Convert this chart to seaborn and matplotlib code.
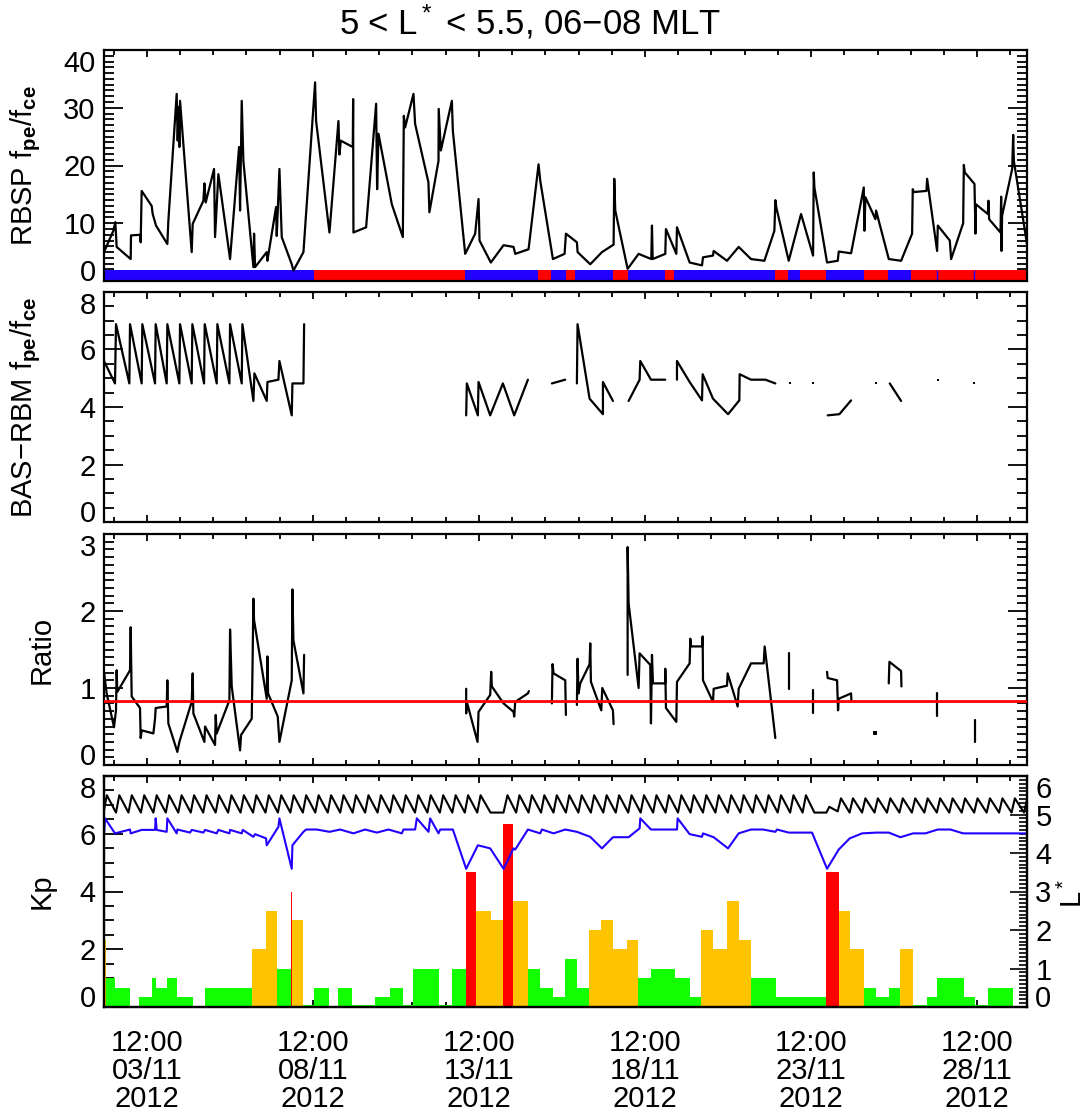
import numpy as np
import pandas as pd
import matplotlib
matplotlib.use("Agg")
import matplotlib.pyplot as plt
import seaborn as sns
from matplotlib.ticker import MultipleLocator, FixedLocator

# ------------------------------------------------------------------
# DATA  (time axis = day of November 2012, UT, fractional days)
# ------------------------------------------------------------------
x_ticks = [3.5, 8.5, 13.5, 18.5, 23.5, 28.5]
x_tick_labels = ["12:00\n03/11\n2012", "12:00\n08/11\n2012", "12:00\n13/11\n2012",
                 "12:00\n18/11\n2012", "12:00\n23/11\n2012", "12:00\n28/11\n2012"]
x_minor = [2.5, 4.5, 5.5, 6.5, 7.5, 9.5, 10.5, 11.5, 12.5, 14.5, 15.5, 16.5, 17.5,
           19.5, 20.5, 21.5, 22.5, 24.5, 25.5, 26.5, 27.5, 29.5]

# Panel 1: RBSP fpe/fce
rbsp_t = [2.214, 2.495, 2.555, 2.595, 3.017, 3.027, 3.298, 3.318, 3.348, 3.649,
          3.68, 3.78, 4.121, 4.151, 4.402, 4.432, 4.463, 4.483, 4.503, 4.854,
          4.884, 5.206, 5.236, 5.276, 5.527, 5.557, 5.657, 6.009, 6.28, 6.31,
          6.36, 6.41, 6.711, 6.732, 6.762, 7.113, 7.133, 7.394, 7.414, 7.495,
          7.565, 7.866, 7.916, 8.218, 8.569, 8.599, 9.001, 9.272, 9.302, 9.342,
          9.703, 9.714, 9.723, 10.105, 10.406, 10.436, 10.477, 10.878, 11.21, 11.24,
          11.28, 11.53, 11.58, 11.98, 12.01, 12.284, 12.29, 12.355, 12.686, 12.716,
          13.087, 13.388, 13.489, 13.519, 13.86, 14.242, 14.543, 14.594, 14.995, 15.296,
          15.346, 15.728, 16.079, 16.12, 16.451, 16.471, 16.852, 17.204, 17.555, 17.575,
          17.605, 17.977, 18.308, 18.69, 18.71, 18.73, 19.111, 19.131, 19.443, 19.463,
          19.845, 20.216, 20.246, 20.547, 20.567, 20.969, 21.32, 21.692, 22.094, 22.395,
          22.425, 22.455, 22.827, 23.198, 23.228, 23.56, 23.58, 23.6, 23.981, 24.303,
          24.333, 24.704, 25.086, 25.106, 25.136, 25.437, 25.457, 25.839, 26.21, 26.541,
          26.561, 26.592, 26.973, 26.993, 27.294, 27.315, 27.676, 27.716, 28.078, 28.098,
          28.128, 28.419, 28.449, 28.459, 28.82, 28.84, 28.86, 29.202, 29.222, 29.232,
          29.25, 29.554, 29.584, 29.604, 30.0]
rbsp_v = [5.0, 8.7, 10.2, 5.9, 3.8, 7.9, 8.0, 6.7, 15.6, 13.0,
          11.6, 9.6, 6.4, 10.4, 32.4, 24.3, 30.1, 23.2, 31.2, 5.0,
          9.9, 13.9, 16.9, 13.6, 19.4, 7.6, 18.5, 3.8, 23.2, 12.2,
          31.2, 20.8, 2.4, 8.2, 2.4, 5.0, 3.5, 12.8, 7.8, 19.4,
          7.6, 2.9, 1.8, 5.0, 34.4, 27.7, 8.4, 27.7, 21.9, 24.3,
          23.2, 31.5, 8.4, 9.3, 30.7, 15.9, 25.5, 13.3, 7.6, 28.6,
          26.6, 32.4, 27.2, 17.1, 11.9, 20.8, 29.8, 22.6, 31.2, 26.0,
          4.7, 8.2, 14.2, 7.0, 3.2, 6.2, 5.9, 4.7, 5.5, 20.2,
          17.4, 3.8, 4.7, 8.2, 6.7, 5.0, 2.9, 5.0, 6.3, 17.7,
          12.2, 2.1, 4.7, 3.8, 9.6, 3.8, 4.7, 9.0, 4.7, 9.3,
          3.2, 2.7, 4.1, 4.4, 5.2, 3.5, 5.9, 3.8, 3.5, 8.7,
          14.0, 12.7, 3.5, 11.6, 11.0, 4.4, 18.8, 16.2, 3.2, 3.5,
          5.1, 4.8, 16.2, 8.7, 14.5, 10.7, 12.2, 3.8, 3.5, 8.2,
          15.9, 15.4, 15.6, 17.7, 5.2, 9.6, 7.0, 3.8, 10.0, 20.1,
          18.8, 16.8, 8.2, 13.3, 11.6, 13.9, 10.7, 8.4, 14.6, 5.2,
          11.3, 19.4, 25.3, 20.8, 6.4]

# Panel 1 bottom strip: inside (blue) / outside (red) plasmasphere
strip_edges = [2.214, 8.54, 13.09, 15.29, 15.68, 16.13, 16.40, 17.55, 17.98, 19.11,
               19.38, 22.42, 22.80, 23.18, 23.96, 25.08, 25.82, 26.52, 30.0]
strip_state = ["in", "out", "in", "out", "in", "out", "in", "out", "in", "out",
               "in", "out", "in", "out", "in", "out", "in", "out"]
strip_marks = [27.30, 28.40]

# Panel 2: BAS-RBM fpe/fce (segments separated by data gaps)
bas_t = [2.214, 2.545, 2.575, 2.977, 2.997, 3.348, 3.368, 3.75, 3.77, 4.101,
         4.121, 4.483, 4.503, 4.854, 4.874, 5.226, 5.246, 5.607, 5.627, 5.989,
         6.009, 6.36, 6.38, 6.712, 6.742, 7.113, 7.133, 7.465, 7.495, 7.866,
         7.886, 8.218, 8.238,
         13.117, 13.137, 13.469, 13.489, 13.84, 14.222, 14.563, 14.975,
         15.697, 16.099,
         16.45, 16.47, 16.832, 17.234, 17.234, 17.535,
         18.007, 18.338, 18.358, 18.68, 19.111,
         19.463, 19.463, 19.844, 20.216, 20.236, 20.547, 21.0, 21.34, 21.35, 21.69,
         22.123, 22.424,
         24.001, 24.352, 24.704,
         25.868, 26.21]
bas_v = [5.6, 4.82, 6.88, 4.82, 6.88, 4.82, 6.88, 4.82, 6.88, 4.82,
         6.88, 4.82, 6.88, 4.82, 6.88, 4.82, 6.88, 4.82, 6.88, 4.82,
         6.88, 4.82, 6.88, 4.21, 5.17, 4.21, 4.87, 4.95, 5.6, 3.71,
         4.82, 4.82, 6.88,
         3.71, 4.82, 3.71, 4.87, 3.71, 4.82, 3.71, 4.95,
         4.82, 4.95,
         4.82, 6.88, 4.29, 3.75, 4.87, 4.21,
         4.21, 4.95, 5.6, 4.95, 4.95,
         4.95, 5.6, 4.87, 4.23, 5.14, 4.29, 3.75, 4.23, 5.14, 4.95,
         4.95, 4.82,
         3.71, 3.75, 4.23,
         4.82, 4.21]
bas_seg_len = [33, 8, 2, 6, 5, 12, 3, 2]
bas_dot_t = [22.856, 23.559, 25.457, 27.314, 28.419]
bas_dot_v = [4.82, 4.82, 4.82, 4.95, 4.82]

# Panel 3: ratio
ratio_t = [2.214, 2.294, 2.515, 2.575, 2.595, 2.615, 2.997, 3.017, 3.047, 3.298,
           3.318, 3.348, 3.70, 3.75, 3.77, 4.101, 4.121, 4.151, 4.422, 4.483,
           4.854, 4.884, 4.904, 5.236, 5.256, 5.557, 5.577, 5.607, 5.989, 6.009,
           6.059, 6.31, 6.34, 6.661, 6.681, 6.712, 6.732, 7.113, 7.133, 7.153,
           7.444, 7.495, 7.866, 7.886, 7.916, 8.218, 8.238,
           13.117, 13.117, 13.137, 13.459, 13.489, 13.84, 13.87, 13.89, 14.242, 14.543,
           14.563, 14.593, 14.975, 15.005,
           15.697, 15.717, 15.748, 16.099, 16.119,
           16.45, 16.47, 16.50, 16.551, 16.832, 16.852, 16.872, 17.184, 17.214, 17.535,
           17.555,
           17.977, 17.977, 18.007, 18.308, 18.338, 18.659, 18.68, 18.71, 18.74, 19.111,
           19.111, 19.131, 19.443, 19.463, 19.844, 19.864, 19.884, 20.216, 20.236, 20.246,
           20.547, 20.567, 20.969, 20.989, 21.29, 21.32, 21.692, 22.073, 22.103, 22.424,
           22.846, 22.846,
           23.549, 23.549,
           23.98, 24.0, 24.282, 24.312, 24.332, 24.704, 24.714,
           25.838, 25.858, 26.21, 26.22,
           27.294, 27.294,
           28.428, 28.428]
ratio_v = [1.21, 0.93, 0.49, 0.71, 1.23, 0.95, 1.23, 1.79, 0.89, 0.74,
           0.35, 0.45, 0.41, 0.60, 0.74, 0.76, 1.10, 0.54, 0.17, 0.30,
           0.82, 1.19, 0.67, 0.30, 0.50, 0.26, 0.65, 0.41, 0.84, 1.76,
           1.02, 0.19, 0.39, 0.60, 1.15, 2.16, 1.88, 0.86, 1.41, 0.93,
           0.63, 0.30, 1.10, 2.28, 1.62, 0.93, 1.43,
           0.99, 0.67, 0.82, 0.30, 0.69, 0.91, 1.21, 1.02, 0.80, 0.69,
           0.63, 0.82, 0.93, 0.96,
           0.80, 1.31, 1.19, 1.10, 0.65,
           0.78, 1.38, 0.93, 1.06, 1.31, 1.58, 1.08, 0.71, 1.00, 0.71,
           0.53,
           1.17, 2.83, 2.10, 1.00, 1.45, 1.30, 0.54, 1.43, 1.06, 1.06,
           1.25, 0.74, 0.56, 1.08, 1.32, 1.64, 1.54, 1.54, 1.67, 1.10,
           0.82, 0.99, 1.03, 1.19, 0.76, 0.99, 1.32, 1.32, 1.54, 0.35,
           1.45, 0.99,
           0.97, 0.67,
           1.21, 1.13, 1.10, 0.71, 0.86, 0.93, 0.84,
           1.06, 1.34, 1.22, 1.02,
           0.93, 0.63,
           0.59, 0.30]
ratio_seg_len = [47, 14, 5, 11, 30, 2, 2, 7, 4, 2, 2]
ratio_dot_t = [25.437]
ratio_dot_v = [0.41]
ratio_ref = 0.83

# Panel 4: Kp (3-hourly, runs of equal value) and L*
kp_edges = [2.125, 2.264, 2.545, 2.997, 3.278, 3.67, 3.78, 4.12, 4.40, 4.90,
            5.26, 6.66, 7.09, 7.41, 7.84, 7.88, 8.20, 8.54, 9.00, 9.27,
            9.67, 10.38, 10.83, 11.23, 11.53, 12.30, 12.69, 13.11, 13.42, 13.87,
            14.24, 14.54, 14.97, 15.33, 15.73, 16.10, 16.45, 16.82, 17.17, 17.53,
            17.96, 18.29, 18.69, 19.41, 19.84, 20.19, 20.55, 20.97, 21.32, 21.69,
            22.43, 23.96, 24.33, 24.68, 25.09, 25.44, 25.84, 26.19, 26.56, 26.99,
            27.29, 28.10, 28.43, 28.82, 29.57, 30.0]
kp_values = [2.33, 1.0, 0.67, 0.0, 0.33, 1.0, 0.67, 1.0, 0.33, 0.0,
             0.67, 2.0, 3.33, 1.33, 4.0, 3.0, 0.07, 0.67, 0.0, 0.67,
             0.07, 0.33, 0.67, 0.07, 1.33, 0.07, 1.33, 4.67, 3.33, 3.0,
             6.33, 3.67, 1.33, 0.67, 0.33, 1.67, 0.67, 2.67, 3.0, 2.0,
             2.33, 1.0, 1.33, 1.0, 0.33, 2.67, 2.0, 3.67, 2.33, 1.0,
             0.33, 4.67, 3.33, 2.0, 0.67, 0.33, 0.67, 2.0, 0.07, 0.33,
             1.0, 0.33, 0.07, 0.67, 0.0]

lstar_t = [2.20, 2.30, 2.575, 2.675, 2.95, 3.05, 3.325, 3.425, 3.70, 3.80,
           4.075, 4.175, 4.45, 4.55, 4.825, 4.925, 5.20, 5.30, 5.575, 5.675,
           5.95, 6.05, 6.325, 6.425, 6.70, 6.80, 7.075, 7.175, 7.45, 7.55,
           7.825, 7.925, 8.20, 8.30, 8.575, 8.675, 8.95, 9.05, 9.325, 9.425,
           9.70, 9.80, 10.075, 10.175, 10.45, 10.55, 10.825, 10.925, 11.20, 11.30,
           11.575, 11.675, 11.95, 12.05, 12.325, 12.425, 12.70, 12.80, 13.075, 13.175,
           13.45, 13.55,
           13.85, 14.24, 14.36,
           14.62, 14.72, 14.995, 15.095, 15.37, 15.47, 15.745, 15.845, 16.12, 16.22,
           16.495, 16.595, 16.87, 16.97, 17.245, 17.345, 17.62, 17.72, 17.995, 18.095,
           18.37, 18.47, 18.745, 18.845, 19.12, 19.22, 19.495, 19.595, 19.87, 19.97,
           20.245, 20.345, 20.62, 20.72, 20.995, 21.095, 21.37, 21.47, 21.745, 21.845,
           22.12, 22.22, 22.495, 22.595, 22.87, 22.97, 23.245, 23.345,
           23.60, 23.96, 24.05, 24.30, 24.40,
           24.66, 24.76, 25.035, 25.135, 25.41, 25.51, 25.785, 25.885, 26.16, 26.26,
           26.535, 26.635, 26.91, 27.01, 27.285, 27.385, 27.66, 27.76, 28.035, 28.135,
           28.41, 28.51, 28.785, 28.885, 29.16, 29.26, 29.535, 29.635, 29.91, 30.01]
lstar_v = [5.05, 5.50, 5.05, 5.50, 5.05, 5.50, 5.05, 5.50, 5.05, 5.50,
           5.05, 5.50, 5.05, 5.50, 5.05, 5.50, 5.05, 5.50, 5.05, 5.50,
           5.05, 5.50, 5.05, 5.50, 5.05, 5.50, 5.05, 5.50, 5.05, 5.50,
           5.05, 5.50, 5.05, 5.50, 5.05, 5.50, 5.05, 5.50, 5.05, 5.50,
           5.05, 5.50, 5.05, 5.50, 5.05, 5.50, 5.05, 5.50, 5.05, 5.50,
           5.05, 5.50, 5.05, 5.50, 5.05, 5.50, 5.05, 5.50, 5.05, 5.50,
           5.05, 5.50,
           5.05, 5.05, 5.50,
           5.05, 5.50, 5.05, 5.50, 5.05, 5.50, 5.05, 5.50, 5.05, 5.50,
           5.05, 5.50, 5.05, 5.50, 5.05, 5.50, 5.05, 5.50, 5.05, 5.50,
           5.05, 5.50, 5.05, 5.50, 5.05, 5.50, 5.05, 5.50, 5.05, 5.50,
           5.05, 5.50, 5.05, 5.50, 5.05, 5.50, 5.05, 5.50, 5.05, 5.50,
           5.05, 5.50, 5.05, 5.50, 5.05, 5.50, 5.05, 5.50,
           5.05, 5.05, 5.20, 5.08, 5.42,
           5.05, 5.42, 5.05, 5.42, 5.05, 5.42, 5.05, 5.42, 5.05, 5.42,
           5.05, 5.42, 5.05, 5.42, 5.05, 5.42, 5.05, 5.42, 5.05, 5.42,
           5.05, 5.42, 5.05, 5.42, 5.05, 5.42, 5.05, 5.42, 5.05, 5.42]

lpp_t = [2.214, 2.244, 2.545, 2.997, 3.017, 3.348, 3.75, 3.77, 3.80, 4.101,
         4.121, 4.402, 4.422, 4.804, 4.854, 5.206, 5.256, 5.607, 5.657, 5.989,
         6.009, 6.36, 6.39, 6.712, 6.762, 7.093, 7.113, 7.465, 7.495, 7.866,
         7.886, 8.218, 8.298, 8.619, 9.001, 9.322, 9.723, 10.075, 10.426, 10.778,
         11.18, 11.23, 11.581, 11.631, 11.983, 12.033, 12.284, 12.334, 12.716, 13.117,
         13.469, 13.84, 14.242, 14.543, 14.593, 14.975, 15.346, 15.396, 15.748, 16.099,
         16.45, 16.852, 17.204, 17.535, 18.007, 18.338, 18.358, 18.68, 19.463, 19.483,
         19.844, 20.216, 20.246, 20.567, 21.0, 21.32, 21.692, 22.053, 22.424, 22.475,
         22.826, 23.529, 23.981, 24.332, 24.664, 25.035, 25.467, 25.838, 26.19, 26.571,
         26.943, 27.314, 27.696, 28.077, 30.0]
lpp_v = [4.46, 4.90, 4.51, 4.61, 4.51, 4.60, 4.60, 4.90, 4.60, 4.55,
         4.90, 4.51, 4.61, 4.53, 4.60, 4.53, 4.60, 4.51, 4.60, 4.51,
         4.60, 4.51, 4.60, 4.42, 4.49, 4.38, 4.20, 4.68, 4.90, 3.59,
         4.20, 4.55, 4.61, 4.61, 4.55, 4.61, 4.51, 4.61, 4.53, 4.61,
         4.51, 4.61, 4.61, 4.90, 4.55, 4.90, 4.51, 4.61, 4.61, 3.59,
         4.20, 4.12, 3.59, 4.12, 4.09, 4.61, 4.51, 4.61, 4.51, 4.61,
         4.55, 4.42, 4.12, 4.41, 4.41, 4.64, 4.90, 4.61, 4.61, 4.90,
         4.49, 4.42, 4.51, 4.41, 4.12, 4.51, 4.61, 4.61, 4.55, 4.61,
         4.53, 4.53, 3.59, 4.09, 4.38, 4.51, 4.53, 4.53, 4.41, 4.51,
         4.51, 4.61, 4.61, 4.51, 4.51]

# ------------------------------------------------------------------
# STYLE
# ------------------------------------------------------------------
sns.set_theme(style="ticks")
plt.rcParams["font.family"] = ["Liberation Sans", "DejaVu Sans"]
plt.rcParams["mathtext.fontset"] = "custom"
plt.rcParams["mathtext.rm"] = "Liberation Sans"
plt.rcParams["mathtext.it"] = "Liberation Sans"
plt.rcParams["mathtext.bf"] = "Liberation Sans:bold"
plt.rcParams["mathtext.sf"] = "Liberation Sans"
for key in ["text.color", "axes.labelcolor", "xtick.color", "ytick.color", "axes.edgecolor"]:
    plt.rcParams[key] = "black"

BLUE = "#2200ff"
RED = "#ff0000"
GREEN = "#11ff00"
ORANGE = "#ffc400"
X0, X1 = 2.214, 30.0
FS = 21

fig = plt.figure(figsize=(10.89, 11.12), dpi=100)
FW, FH = 1089.0, 1112.0


def ax_at(top, bottom):
    return fig.add_axes([104 / FW, 1 - bottom / FH, 923 / FW, (bottom - top) / FH])


def style(ax, ymax, major, minor, right=True, ylen=(14, 7.5)):
    ax.set_facecolor("white")
    ax.set_xlim(X0, X1)
    ax.set_ylim(0, ymax)
    ax.xaxis.set_major_locator(FixedLocator(x_ticks))
    ax.xaxis.set_minor_locator(FixedLocator(x_minor))
    ax.yaxis.set_major_locator(MultipleLocator(major))
    ax.yaxis.set_minor_locator(MultipleLocator(minor))
    ax.tick_params(axis="both", which="both", direction="in", top=True, right=right,
                   color="black", width=1.3, labelsize=FS, labelcolor="black")
    ax.tick_params(axis="y", which="major", length=ylen[0], pad=6)
    ax.tick_params(axis="y", which="minor", length=ylen[1])
    ax.tick_params(axis="x", which="major", length=5)
    ax.tick_params(axis="x", which="minor", length=3.5)
    ax.set_xticklabels([])
    for s in ax.spines.values():
        s.set_visible(True)
        s.set_linewidth(1.6)
        s.set_color("black")
    ax.set_xlabel("")


def end_labels(axis, side=1):
    ticks = axis.get_major_ticks()
    lab = (lambda t: t.label1) if side == 1 else (lambda t: t.label2)
    lab(ticks[0]).set_va("baseline")
    lab(ticks[-1]).set_va("top")


ax1 = ax_at(50, 281)
ax2 = ax_at(292, 522)
ax3 = ax_at(534, 765)
ax4 = ax_at(776, 1007)

# ---------------- Panel 1 ----------------
strip_left = np.array(strip_edges[:-1])
strip_w = np.diff(strip_edges)
strip_col = [BLUE if s == "in" else RED for s in strip_state]
ax1.bar(strip_left, 1.9, width=strip_w, align="edge", color=strip_col, linewidth=0, zorder=1)
ax1.vlines(strip_marks, 0, 1.9, color=BLUE, lw=1.0, zorder=1)
df1 = pd.DataFrame({"t": rbsp_t, "v": rbsp_v})
sns.lineplot(data=df1, x="t", y="v", estimator=None, sort=False, color="black",
             lw=1.6, ax=ax1, legend=False, zorder=3)
style(ax1, 40, 10, 1)
ax1.set_yticks([0, 10, 20, 30, 40])
ax1.set_ylabel(r"RBSP f$_\mathbf{pe}$/f$_\mathbf{ce}$", fontsize=FS)
ax1.yaxis.set_label_coords(-0.066, 0.5)
end_labels(ax1.yaxis)

# ---------------- Panel 2 ----------------
df2 = pd.DataFrame({"t": bas_t, "v": bas_v,
                    "seg": np.repeat(np.arange(len(bas_seg_len)), bas_seg_len)})
sns.lineplot(data=df2, x="t", y="v", units="seg", estimator=None, sort=False,
             color="black", lw=1.6, ax=ax2, legend=False)
sns.scatterplot(x=bas_dot_t, y=bas_dot_v, color="black", marker="s", s=3,
                linewidth=0, ax=ax2, legend=False)
style(ax2, 8, 2, 0.5)
ax2.set_yticks([0, 2, 4, 6, 8])
ax2.set_ylabel(r"BAS$-$RBM f$_\mathbf{pe}$/f$_\mathbf{ce}$", fontsize=FS)
ax2.yaxis.set_label_coords(-0.066, 0.5)
end_labels(ax2.yaxis)

# ---------------- Panel 3 ----------------
df3 = pd.DataFrame({"t": ratio_t, "v": ratio_v,
                    "seg": np.repeat(np.arange(len(ratio_seg_len)), ratio_seg_len)})
ax3.axhline(ratio_ref, color=RED, lw=2.0, zorder=4)
sns.lineplot(data=df3, x="t", y="v", units="seg", estimator=None, sort=False,
             color="black", lw=1.6, ax=ax3, legend=False)
sns.scatterplot(x=ratio_dot_t, y=ratio_dot_v, color="black", marker="s", s=5,
                linewidth=0, ax=ax3, legend=False)
style(ax3, 3, 1, 0.1, ylen=(14, 7))
ax3.set_yticks([0, 1, 2, 3])
ax3.set_ylabel("Ratio", fontsize=FS)
ax3.yaxis.set_label_coords(-0.052, 0.5)
end_labels(ax3.yaxis)

# ---------------- Panel 4 ----------------
kp_left = np.array(kp_edges[:-1])
kp_w = np.diff(kp_edges)
kp_col = [GREEN if k < 2 else (ORANGE if k < 4 else RED) for k in kp_values]
ax4.bar(kp_left, kp_values, width=kp_w, align="edge", color=kp_col, linewidth=0)
style(ax4, 8, 2, 0.5, right=False)
ax4.set_yticks([0, 2, 4, 6, 8])
ax4.set_ylabel("Kp", fontsize=FS)
ax4.yaxis.set_label_coords(-0.052, 0.5)
end_labels(ax4.yaxis)
ax4.set_xticks(x_ticks)
ax4.set_xticklabels(x_tick_labels, fontsize=FS, linespacing=1.0)
ax4.tick_params(axis="x", which="major", pad=16)

ax4r = ax4.twinx()
ax4r.set_position(ax4.get_position())
ax4r.set_ylim(0, 6)
sns.lineplot(x=lpp_t, y=lpp_v, estimator=None, sort=False, color=BLUE, lw=1.5,
             ax=ax4r, legend=False)
sns.lineplot(x=lstar_t, y=lstar_v, estimator=None, sort=False, color="black", lw=1.5,
             ax=ax4r, legend=False)
ax4r.set_xlim(X0, X1)
ax4r.set_ylabel("")
ax4r.set_xlabel("")
ax4r.yaxis.set_major_locator(FixedLocator([0, 1, 2, 3, 4, 5, 6]))
ax4r.yaxis.set_minor_locator(MultipleLocator(0.1))
ax4r.tick_params(axis="y", which="both", direction="in", right=True, left=False,
                 color="black", width=1.2, labelsize=FS, labelcolor="black")
ax4r.tick_params(axis="y", which="major", length=12, pad=6)
ax4r.tick_params(axis="y", which="minor", length=6)
for s in ax4r.spines.values():
    s.set_visible(True)
    s.set_linewidth(1.6)
    s.set_color("black")
end_labels(ax4r.yaxis, side=2)
fig.text(1073 / FW, 1 - 893 / FH, "L$^*$", rotation=90, ha="center", va="center",
         fontsize=FS)

# ---------------- Title ----------------
fig.text(530 / FW, 1 - 22 / FH, "5 < L$^*$ < 5.5, 06\u221208 MLT", ha="center", va="center",
         fontsize=25)

fig.savefig("out.png", dpi=100, facecolor="white")
